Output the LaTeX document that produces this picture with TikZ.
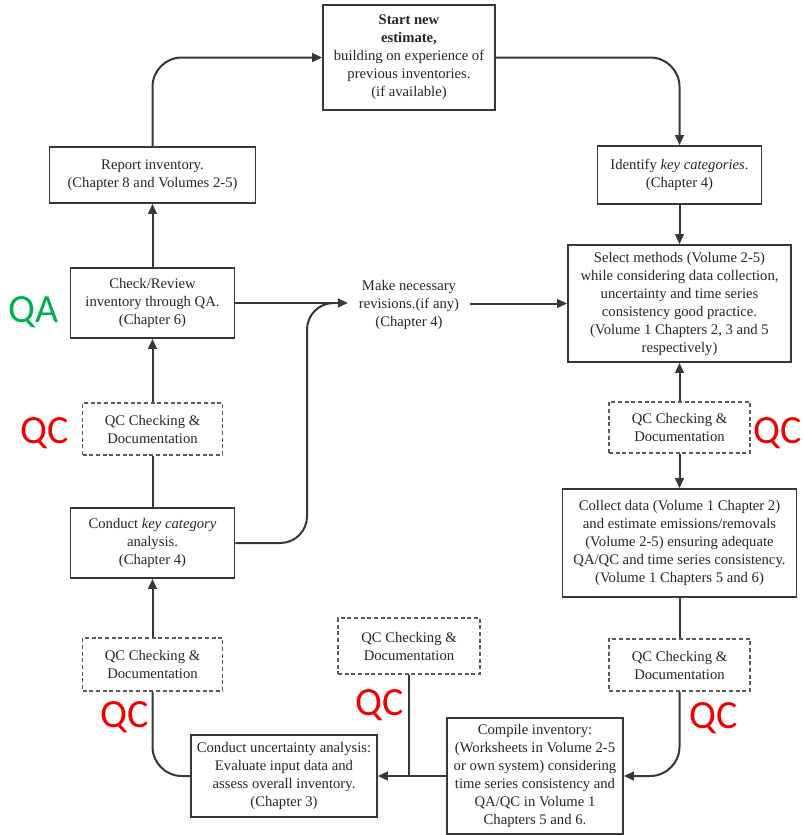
\documentclass[tikz,border=0pt]{standalone}
\usepackage{fontspec}
\setmainfont{Liberation Serif}
\newfontfamily\labfont{Carlito}
\usetikzlibrary{arrows.meta}
\definecolor{qcred}{RGB}{240,0,0}
\definecolor{qagreen}{RGB}{0,176,80}
\definecolor{linec}{RGB}{55,55,55}
\newcommand{\boxfont}{\fontsize{11}{13.5}\selectfont}
\begin{document}
\begin{tikzpicture}[x=0.75pt,y=-0.75pt,
  >={Triangle[length=7.5pt,width=6.5pt]},
  sz/.style 2 args={minimum width=#1*0.75pt,minimum height=#2*0.75pt},
  box/.style={draw=linec,line width=1.3pt,fill=white,align=center,inner sep=0pt,font=\boxfont,text=black!85},
  qcbox/.style={box,draw=black!65,line width=1.1pt,dash pattern=on 3pt off 2pt},
  conn/.style={draw=linec,line width=1.5pt},
  arr/.style={conn,->},
  lab/.style={font=\labfont\fontsize{30}{30}\selectfont,anchor=base,inner sep=0pt},
  qclab/.style={lab,text=qcred},
  qalab/.style={lab,text=qagreen}]
\fill[white] (0,0) rectangle (803,835);
\useasboundingbox (0,0) rectangle (803,835);

\node[box,sz={172}{105}] (start) at (409,57.5) {\textbf{Start new}\\\textbf{estimate,}\\building on experience of\\previous inventories.\\(if available)};
\node[box,sz={206}{56}] (report) at (152.5,175) {Report inventory.\\(Chapter 8 and Volumes 2-5)};
\node[box,sz={164}{70}] (check) at (152.5,303) {Check/Review\\inventory through QA.\\(Chapter 6)};
\node[box,sz={164}{58}] (identify) at (679.5,175) {Identify \textit{key categories}.\\(Chapter 4)};
\node[box,sz={223}{117}] (select) at (679.5,303.5) {Select methods (Volume 2-5)\\while considering data collection,\\uncertainty and time series\\consistency good practice.\\(Volume 1 Chapters 2, 3 and 5\\respectively)};
\node[qcbox,sz={140}{52}] (qcL) at (152.5,429) {QC Checking \&\\Documentation};
\node[box,sz={164}{70}] (key) at (152.5,543) {Conduct \textit{key category}\\analysis.\\(Chapter 4)};
\node[qcbox,sz={141}{51}] (qcR) at (679.5,427.5) {QC Checking \&\\Documentation};
\node[box,sz={234}{108}] (collect) at (679.5,543) {Collect data (Volume 1 Chapter 2)\\and estimate emissions/removals\\(Volume 2-5) ensuring adequate\\QA/QC and time series consistency.\\(Volume 1 Chapters 5 and 6)};
\node[qcbox,sz={140}{53}] (qcBL) at (152.5,664.5) {QC Checking \&\\Documentation};
\node[box,sz={186}{82}] (unc) at (284,776) {Conduct uncertainty analysis:\\Evaluate input data and\\assess overall inventory.\\(Chapter 3)};
\node[qcbox,sz={142}{56}] (qcM) at (409,646) {QC Checking \&\\Documentation};
\node[box,sz={176}{116}] (compile) at (535,776) {Compile inventory:\\(Worksheets in Volume 2-5\\or own system) considering\\time series consistency and\\QA/QC in Volume 1\\Chapters 5 and 6.};
\node[qcbox,sz={141}{52}] (qcBR) at (679.5,665) {QC Checking \&\\Documentation};
\node[align=center,font=\boxfont,text=black!85,inner ysep=0pt,inner xsep=8pt] (rev) at (409,305) {Make necessary\\revisions.(if any)\\(Chapter 4)};
\coordinate (merge) at (330,303);

\draw[arr,rounded corners=22pt] (report.north) |- (start.west);
\draw[arr,rounded corners=22pt] (start.east) -| (identify.north);
\draw[arr] (identify.south) -- (select.north);
\draw[arr] (qcR.north) -- (select.south);
\draw[arr] (qcR.south) -- (collect.north);
\draw[conn] (collect.south) -- (qcBR.north);
\draw[arr,rounded corners=22pt] (qcBR.south) |- (compile.east);
\draw[arr] (compile.west) -- (unc.east);
\draw[conn] (qcM.south) -- (qcM.south |- unc.east);
\draw[conn,rounded corners=22pt] (unc.west) -| (qcBL.south);
\draw[arr] (qcBL.north) -- (key.south);
\draw[conn] (key.north) -- (qcL.south);
\draw[arr] (qcL.north) -- (check.south);
\draw[arr] (check.north) -- (report.south);
\draw[arr] (check.east) -- (check.east -| rev.west);
\draw[conn,rounded corners=20pt] (key.east) -| (307,303) -- (merge);
\draw[arr] (rev.east |- select.west) -- (select.west);

\node[qalab] (qa) at (34,322) {QA};
\node[qclab] (q1) at (45,443) {QC};
\node[qclab] (q2) at (778,443) {QC};
\node[qclab] (q3) at (125,727) {QC};
\node[qclab] (q4) at (380,715) {QC};
\node[qclab] (q5) at (714,728) {QC};
\end{tikzpicture}
\end{document}
